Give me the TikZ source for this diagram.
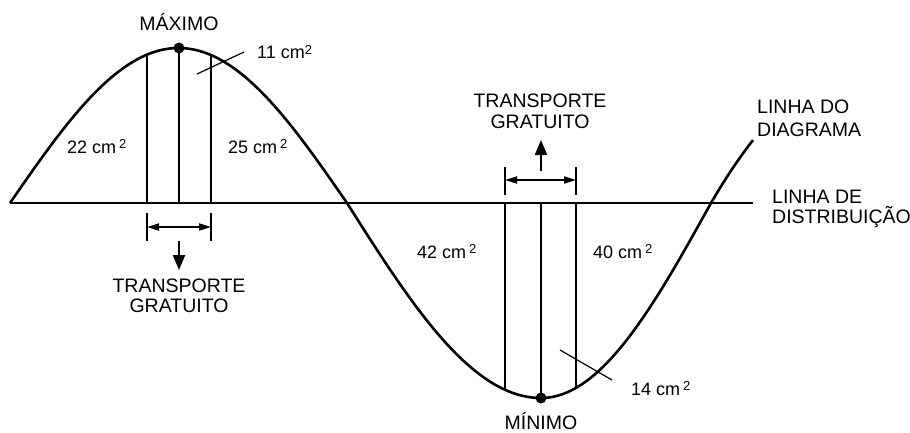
\documentclass[tikz,border=0pt]{standalone}
\usepackage{fontspec}
\setmainfont{Liberation Sans}
\usetikzlibrary{arrows.meta}
\newcommand{\sqr}{\raisebox{4.5pt}{\fontsize{13}{13}\selectfont 2}}
\begin{document}
\begin{tikzpicture}[x=1pt,y=-1pt,
  curve/.style={line width=2.6pt, line join=round},
  axisline/.style={line width=2pt},
  thinline/.style={line width=1.2pt},
  dim/.style={line width=2pt, {Triangle[length=12pt,width=7pt]}-{Triangle[length=12pt,width=7pt]}},
  bigarrow/.style={line width=2.2pt, -{Triangle[length=15pt,width=12pt]}},
  word/.style={font=\fontsize{19.5}{20}\selectfont, inner sep=0pt},
  area/.style={font=\fontsize{18}{18}\selectfont, inner sep=0pt, anchor=base west},
  dot/.style={circle, fill, inner sep=0pt, minimum size=11pt}]
\useasboundingbox (0,0) rectangle (910,432);

% coordinates
\coordinate (bl) at (10,203);
\coordinate (br) at (753,203);
\coordinate (peak) at (179,{203-155*sin(180/337*169)});
\coordinate (low) at (541,398);
\coordinate (a1) at (147,203);
\coordinate (a1t) at (147,{203-155*sin(180/337*137)});
\coordinate (a2) at (179,203);
\coordinate (a3) at (211,203);
\coordinate (a3t) at (211,{203-155*sin(180/337*201)});
\coordinate (b1) at (505,203);
\coordinate (b1t) at (505,{203+195*sin(90/194*158)});
\coordinate (b2) at (541,203);
\coordinate (b3) at (576,203);
\coordinate (b3t) at (576,{203+195*sin(90/170*135)});

% distribution line
\draw[axisline] (bl) -- (br);

% diagram line
\draw[curve] plot[domain=10:347,samples=90,smooth] (\x,{203-155*sin(180/337*(\x-10))})
  -- plot[domain=347:541,samples=60,smooth] (\x,{203+195*sin(90/194*(\x-347))})
  -- plot[domain=541:711,samples=60,smooth] (\x,{203+195*sin(90/170*(711-\x))})
  -- plot[domain=711:753,samples=15,smooth] (\x,{203-1.72*(\x-711)+0.0053*(\x-711)^2});

% vertical division lines
\draw[thinline] (a1) -- (a1t);
\draw[thinline] (a2) -- (peak);
\draw[thinline] (a3) -- (a3t);
\draw[thinline] (b1) -- (b1t);
\draw[thinline] (b2) -- (low);
\draw[thinline] (b3) -- (b3t);

% dots
\node[dot] (maxdot) at (peak) {};
\node[dot] (mindot) at (low) {};

% left free-transport dimension
\coordinate (t1a) at (147,213); \coordinate (t1b) at (147,241);
\coordinate (t2a) at (211,213); \coordinate (t2b) at (211,241);
\draw[thinline] (t1a) -- (t1b);
\draw[thinline] (t2a) -- (t2b);
\coordinate (d1l) at (147,227); \coordinate (d1r) at (211,227);
\draw[dim] (d1l) -- (d1r);
\coordinate (ar1s) at (179,241); \coordinate (ar1e) at (179,270);
\draw[bigarrow] (ar1s) -- (ar1e);

% right free-transport dimension
\coordinate (u1a) at (505,167); \coordinate (u1b) at (505,195);
\coordinate (u2a) at (576,167); \coordinate (u2b) at (576,195);
\draw[thinline] (u1a) -- (u1b);
\draw[thinline] (u2a) -- (u2b);
\coordinate (d2l) at (505,180); \coordinate (d2r) at (576,180);
\draw[dim] (d2l) -- (d2r);
\coordinate (ar2s) at (541,171); \coordinate (ar2e) at (541,140);
\draw[bigarrow] (ar2s) -- (ar2e);

% leader lines
\coordinate (l11a) at (197,74); \coordinate (l11b) at (244,52);
\draw[thinline] (l11a) -- (l11b);
\coordinate (l14a) at (560,350); \coordinate (l14b) at (612,380);
\draw[thinline] (l14a) -- (l14b);

% words
\node[word, anchor=base] (maxlbl) at (179,30) {MÁXIMO};
\node[word, anchor=base] (tr1) at (179,292) {TRANSPORTE};
\node[word, anchor=base] (gr1) at (179,312) {GRATUITO};
\node[word, anchor=base] (tr2) at (540,107) {TRANSPORTE};
\node[word, anchor=base] (gr2) at (540,128) {GRATUITO};
\node[word, anchor=base] (minlbl) at (541,429) {MÍNIMO};
\node[word, anchor=base west] (ld1) at (757,113) {LINHA DO};
\node[word, anchor=base west] (ld2) at (757,136) {DIAGRAMA};
\node[word, anchor=base west] (lb1) at (772,203) {LINHA DE};
\node[word, anchor=base west] (lb2) at (772,223) {DISTRIBUIÇÃO};

% areas
\node[area] (c22) at (67,153) {22 cm\hspace{3pt}\sqr};
\node[area] (c25) at (228,153) {25 cm\hspace{3pt}\sqr};
\node[area] (c11) at (257,58.5) {11 cm\sqr};
\node[area] (c42) at (417,258) {42 cm\hspace{3pt}\sqr};
\node[area] (c40) at (593,258) {40 cm\hspace{3pt}\sqr};
\node[area] (c14) at (631,395) {14 cm\hspace{3pt}\sqr};
\end{tikzpicture}
\end{document}
